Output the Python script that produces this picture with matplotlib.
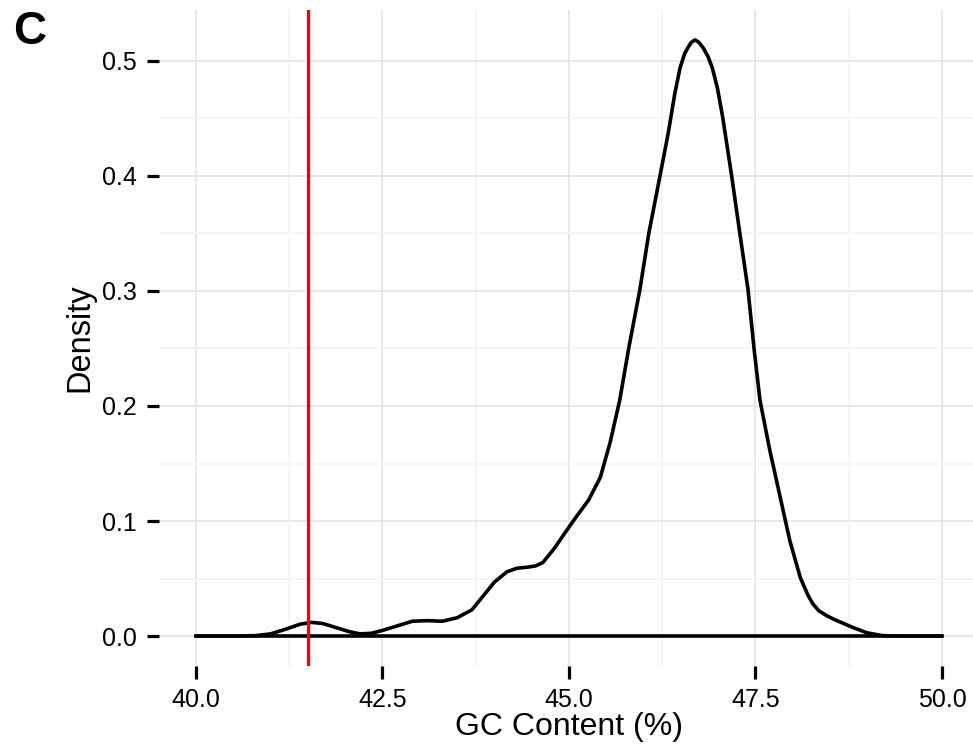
import matplotlib
matplotlib.use("Agg")
import matplotlib.pyplot as plt
from matplotlib.ticker import MultipleLocator

plt.rcParams['font.family'] = ['Liberation Sans', 'DejaVu Sans']

gc_x = [40.0, 40.5, 40.8, 41.0, 41.2, 41.4, 41.55, 41.7, 41.9, 42.05, 42.2, 42.35,
        42.5, 42.7, 42.9, 43.1, 43.3, 43.5, 43.7, 43.85, 44.0, 44.17, 44.3, 44.45,
        44.55, 44.65, 44.8, 44.97, 45.1, 45.26, 45.42, 45.55, 45.68, 45.8, 45.95,
        46.07, 46.22, 46.33, 46.42, 46.49, 46.55, 46.6, 46.64, 46.69, 46.74, 46.8,
        46.86, 46.92, 46.99, 47.06, 47.18, 47.29, 47.40, 47.48, 47.56, 47.69, 47.83,
        47.96, 48.10, 48.2, 48.27, 48.35, 48.45, 48.54, 48.77, 48.99, 49.2, 49.5, 50.0]
density = [0.0, 0.0, 0.0005, 0.002, 0.006, 0.0105, 0.012, 0.011, 0.007, 0.004, 0.002, 0.0025,
           0.005, 0.009, 0.013, 0.0135, 0.013, 0.016, 0.023, 0.035, 0.047, 0.056, 0.059, 0.060,
           0.061, 0.064, 0.076, 0.092, 0.104, 0.118, 0.138, 0.168, 0.205, 0.25, 0.301,
           0.35, 0.40, 0.437, 0.472, 0.494, 0.506, 0.512, 0.516, 0.518, 0.516, 0.511,
           0.504, 0.494, 0.476, 0.451, 0.40, 0.35, 0.301, 0.25, 0.205, 0.162, 0.121,
           0.083, 0.051, 0.036, 0.028, 0.022, 0.018, 0.015, 0.0085, 0.003, 0.0005, 0.0, 0.0]
threshold = 41.5
x_ticks = [40.0, 42.5, 45.0, 47.5, 50.0]
y_ticks = [0.0, 0.1, 0.2, 0.3, 0.4, 0.5]

W, H = 973, 747
fig = plt.figure(figsize=(W / 100, H / 100), dpi=100)
left_px, right_px, top_px, bot_px = 158.7, 973, 10, 666
ax = fig.add_axes([left_px / W, 1 - bot_px / H, (right_px - left_px) / W, (bot_px - top_px) / H])

ax.set_xlim(39.5, 39.5 + (right_px - left_px) / 74.6)
ax.set_ylim(-0.0259, 0.544)

ax.set_xticks(x_ticks)
ax.set_yticks(y_ticks)
ax.xaxis.set_minor_locator(MultipleLocator(1.25))
ax.yaxis.set_minor_locator(MultipleLocator(0.05))
ax.grid(which='major', color='#e6e6e6', linewidth=1.3, zorder=0)
ax.grid(which='minor', color='#f3f3f3', linewidth=1.2, zorder=0)
ax.set_axisbelow(True)
for s in ax.spines.values():
    s.set_visible(False)

ax.plot(gc_x, density, color='black', linewidth=2.6, zorder=3,
        solid_joinstyle='round', solid_capstyle='round')
ax.plot([gc_x[0], gc_x[-1]], [0, 0], color='black', linewidth=2.6, zorder=3)

ax.axvline(threshold, color='#ff0000', linewidth=2.4, zorder=4)

ax.tick_params(axis='both', which='major', length=9, width=2.3, color='black',
               labelsize=18, labelcolor='black', pad=6.5)
ax.tick_params(axis='both', which='minor', length=0)
ax.set_xticklabels(['40.0', '42.5', '45.0', '47.5', '50.0'])
ax.set_yticklabels(['0.0', '0.1', '0.2', '0.3', '0.4', '0.5'])

ax.set_xlabel('GC Content (%)', fontsize=23)
ax.set_ylabel('Density', fontsize=23.5)
ax.xaxis.set_label_coords((569 - left_px) / (right_px - left_px), -(712 - bot_px) / (bot_px - top_px))
ax.yaxis.set_label_coords((95 - left_px) / (right_px - left_px), 0.5)

fig.text(13 / W, 1 - 32 / H, 'C', fontsize=33, fontweight='bold', va='center', ha='left')

fig.savefig('out.png', dpi=100, facecolor='white')
